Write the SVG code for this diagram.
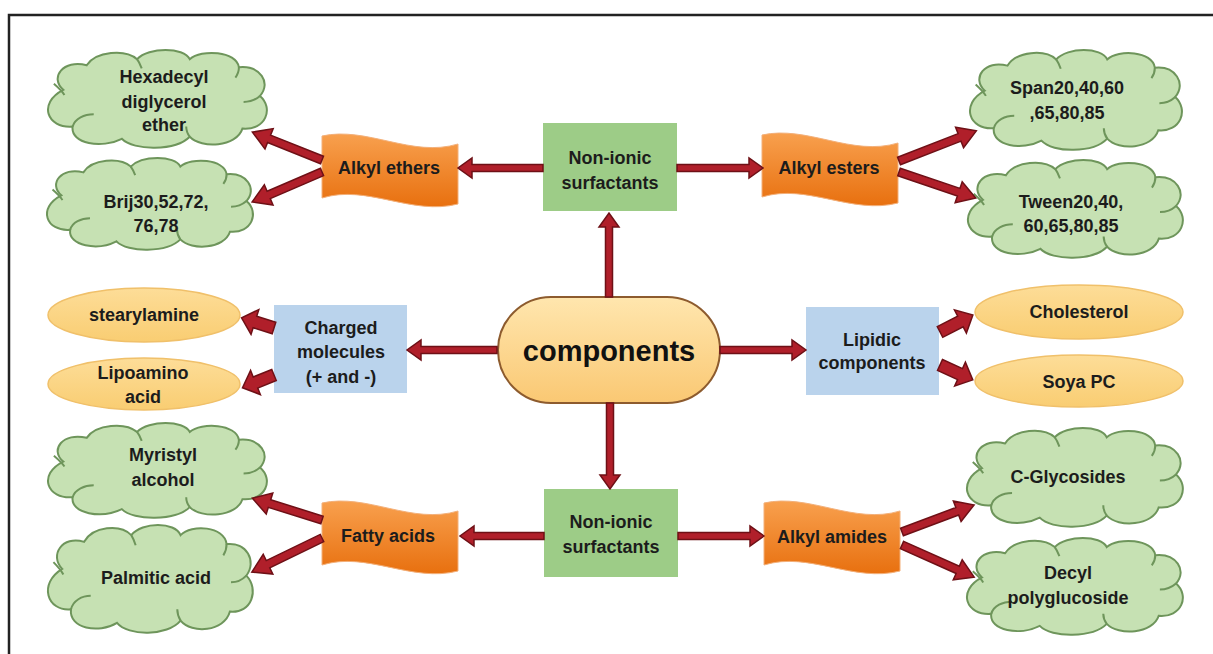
<svg xmlns="http://www.w3.org/2000/svg" xmlns:xlink="http://www.w3.org/1999/xlink" width="1213" height="654" viewBox="0 0 1213 654">
<style>
.t{font-family:"Liberation Sans",Arial,sans-serif;font-weight:bold;font-size:18px;fill:#1c1c1c;text-anchor:middle}
.big{font-size:29px;fill:#111}
.cloud{fill:#C6E1B3;stroke:#6E955B;stroke-width:2;vector-effect:non-scaling-stroke}
.cin{fill:none;stroke:#6E955B;stroke-width:2;vector-effect:non-scaling-stroke}
.green{fill:#9DCC87}
.blue{fill:#BAD3EC}
.ell{fill:url(#gy);stroke:#F0C06A;stroke-width:1.5}
.ban{fill:url(#go);stroke:#F3B07A;stroke-width:1}
.arr{fill:#B01F2A;stroke:#6E1016;stroke-width:1.5;stroke-linejoin:miter}
</style>
<defs>
<linearGradient id="go" x1="0" y1="0" x2="0" y2="1"><stop offset="0" stop-color="#F8A04E"/><stop offset="1" stop-color="#E8700F"/></linearGradient>
<linearGradient id="gy" x1="0" y1="0" x2="0" y2="1"><stop offset="0" stop-color="#FDDD98"/><stop offset="1" stop-color="#F9CD72"/></linearGradient>
<linearGradient id="gp" x1="0" y1="0" x2="0" y2="1"><stop offset="0" stop-color="#FFE6AE"/><stop offset="1" stop-color="#FAC873"/></linearGradient>
<g id="cloud">
<path class="cloud" d="M22,42 C10,30 22,12 42,18 C50,4 75,2 85,12 C95,0 125,0 130,12 C140,2 170,4 172,20 C190,18 200,35 190,48 C202,60 195,82 175,80 C170,98 140,100 130,88 C118,102 82,102 72,90 C55,100 28,95 30,78 C8,80 0,55 22,42 Z"/>
<path class="cin" d="M14,36 C18,40 21,43 23,47 M30,78 C32,70 40,66 48,66 M190,48 C186,52 181,54 176,54 M85,12 C87,15 88,18 89,21 M130,88 C128,85 127,82 127,78 M172,20 C172,24 171,27 169,30"/>
</g>
<path id="banner" class="ban" d="M0,0 C45,-10 90,22 136,8 L136,68 C90,80 45,48 0,62 Z"/>
</defs>
<rect x="0" y="0" width="1213" height="654" fill="#fff"/>
<path d="M9,654 L9,15 L1213,15" fill="none" stroke="#222" stroke-width="2.5"/>

<g id="n-components">
<rect x="498" y="297" width="222" height="106" rx="53" ry="53" fill="url(#gp)" stroke="#8D5B2E" stroke-width="2"/>
<text class="t big" x="609" y="361">components</text>
</g>
<g id="n-nonionic-top">
<rect class="green" x="543" y="123" width="134" height="88"/>
<text class="t" x="610" y="164">Non-ionic</text>
<text class="t" x="610" y="189">surfactants</text>
</g>
<g id="n-nonionic-bottom">
<rect class="green" x="544" y="489" width="134" height="88"/>
<text class="t" x="611" y="528">Non-ionic</text>
<text class="t" x="611" y="553">surfactants</text>
</g>
<g id="n-charged">
<rect class="blue" x="274" y="305" width="133" height="88"/>
<text class="t" x="341" y="334">Charged</text>
<text class="t" x="341" y="358">molecules</text>
<text class="t" x="341" y="383">(+ and -)</text>
</g>
<g id="n-lipidic">
<rect class="blue" x="806" y="307" width="133" height="88"/>
<text class="t" x="872" y="346">Lipidic</text>
<text class="t" x="872" y="369">components</text>
</g>
<g id="n-alkyl-ethers">
<use xlink:href="#banner" href="#banner" transform="translate(322,136)"/>
<text class="t" x="389" y="174">Alkyl ethers</text>
</g>
<g id="n-alkyl-esters">
<use xlink:href="#banner" href="#banner" transform="translate(762,135)"/>
<text class="t" x="829" y="174">Alkyl esters</text>
</g>
<g id="n-fatty-acids">
<use xlink:href="#banner" href="#banner" transform="translate(322,503)"/>
<text class="t" x="388" y="542">Fatty acids</text>
</g>
<g id="n-alkyl-amides">
<use xlink:href="#banner" href="#banner" transform="translate(764,503)"/>
<text class="t" x="832" y="543">Alkyl amides</text>
</g>
<g id="n-hexadecyl">
<use xlink:href="#cloud" href="#cloud" transform="translate(37.5,46.9) scale(1.171,1.021)"/>
<text class="t" x="164" y="83">Hexadecyl</text>
<text class="t" x="164" y="108">diglycerol</text>
<text class="t" x="164" y="131">ether</text>
</g>
<g id="n-brij">
<use xlink:href="#cloud" href="#cloud" transform="translate(37.1,155.1) scale(1.102,0.958)"/>
<text class="t" x="156" y="208">Brij30,52,72,</text>
<text class="t" x="156" y="232">76,78</text>
</g>
<g id="n-span">
<use xlink:href="#cloud" href="#cloud" transform="translate(959.8,46.9) scale(1.134,1.042)"/>
<text class="t" x="1067" y="94">Span20,40,60</text>
<text class="t" x="1067" y="119">,65,80,85</text>
</g>
<g id="n-tween">
<use xlink:href="#cloud" href="#cloud" transform="translate(957.6,156.9) scale(1.150,1.021)"/>
<text class="t" x="1071" y="208">Tween20,40,</text>
<text class="t" x="1071" y="232">60,65,80,85</text>
</g>
<g id="n-stearylamine">
<ellipse class="ell" cx="144" cy="315" rx="96" ry="27"/>
<text class="t" x="144" y="321">stearylamine</text>
</g>
<g id="n-lipoamino">
<ellipse class="ell" cx="144" cy="384" rx="96" ry="26"/>
<text class="t" x="143" y="379">Lipoamino</text>
<text class="t" x="143" y="403">acid</text>
</g>
<g id="n-cholesterol">
<ellipse class="ell" cx="1079" cy="312" rx="104" ry="27"/>
<text class="t" x="1079" y="318">Cholesterol</text>
</g>
<g id="n-soya">
<ellipse class="ell" cx="1079" cy="381" rx="104" ry="26"/>
<text class="t" x="1079" y="388">Soya PC</text>
</g>
<g id="n-myristyl">
<use xlink:href="#cloud" href="#cloud" transform="translate(37.5,420) scale(1.171,0.990)"/>
<text class="t" x="163" y="461">Myristyl</text>
<text class="t" x="163" y="486">alcohol</text>
</g>
<g id="n-palmitic">
<use xlink:href="#cloud" href="#cloud" transform="translate(38.1,521.6) scale(1.096,1.125)"/>
<text class="t" x="156" y="584">Palmitic acid</text>
</g>
<g id="n-cglycosides">
<use xlink:href="#cloud" href="#cloud" transform="translate(956.6,424.9) scale(1.155,1.031)"/>
<text class="t" x="1068" y="483">C-Glycosides</text>
</g>
<g id="n-decyl">
<use xlink:href="#cloud" href="#cloud" transform="translate(956.6,535) scale(1.155,1.010)"/>
<text class="t" x="1068" y="579">Decyl</text>
<text class="t" x="1068" y="604">polyglucoside</text>
</g>

<g id="connectors">
<polygon class="arr" points="605.5,297 605.5,227 599,227 609,213 619,227 612.5,227 612.5,297"/>
<polygon class="arr" points="606.5,403 606.5,475 600,475 610,489 620,475 613.5,475 613.5,403"/>
<polygon class="arr" points="543,164.5 472,164.5 472,158 458,168 472,178 472,171.5 543,171.5"/>
<polygon class="arr" points="677,164.5 749,164.5 749,158 763,168 749,178 749,171.5 677,171.5"/>
<polygon class="arr" points="497,346.5 421,346.5 421,340 407,350 421,360 421,353.5 497,353.5"/>
<polygon class="arr" points="720,346.5 792,346.5 792,340 806,350 792,360 792,353.5 720,353.5"/>
<polygon class="arr" points="544,532.5 474,532.5 474,526 460,536 474,546 474,539.5 544,539.5"/>
<polygon class="arr" points="678,532.5 750,532.5 750,526 764,536 750,546 750,539.5 678,539.5"/>
<polygon class="arr" transform="translate(322,160) rotate(-158.2)" points="0,-4 57,-4 57,-11 75,0 57,11 57,4 0,4"/>
<polygon class="arr" transform="translate(322,172) rotate(156.8)" points="0,-4 58,-4 58,-11 76,0 58,11 58,4 0,4"/>
<polygon class="arr" transform="translate(899,161) rotate(-21.3)" points="0,-4 65,-4 65,-11 83,0 65,11 65,4 0,4"/>
<polygon class="arr" transform="translate(899,172) rotate(18.7)" points="0,-4 63,-4 63,-11 81,0 63,11 63,4 0,4"/>
<polygon class="arr" transform="translate(322,520) rotate(-162.6)" points="0,-4 55,-4 55,-11 73,0 55,11 55,4 0,4"/>
<polygon class="arr" transform="translate(322,538) rotate(154.1)" points="0,-4 60,-4 60,-11 78,0 60,11 60,4 0,4"/>
<polygon class="arr" transform="translate(902,532) rotate(-20.6)" points="0,-4 59,-4 59,-11 77,0 59,11 59,4 0,4"/>
<polygon class="arr" transform="translate(902,545) rotate(24)" points="0,-4 61,-4 61,-11 79,0 61,11 61,4 0,4"/>
<polygon class="arr" transform="translate(274,328) rotate(-162.6)" points="0,-6 20,-6 20,-13 34,0 20,13 20,6 0,6"/>
<polygon class="arr" transform="translate(274,375) rotate(157.9)" points="0,-6 20,-6 20,-13 34,0 20,13 20,6 0,6"/>
<polygon class="arr" transform="translate(940,332) rotate(-27.3)" points="0,-6 23,-6 23,-13 37,0 23,13 23,6 0,6"/>
<polygon class="arr" transform="translate(940,365) rotate(24.4)" points="0,-6 22,-6 22,-13 36,0 22,13 22,6 0,6"/>
</g>
</svg>
